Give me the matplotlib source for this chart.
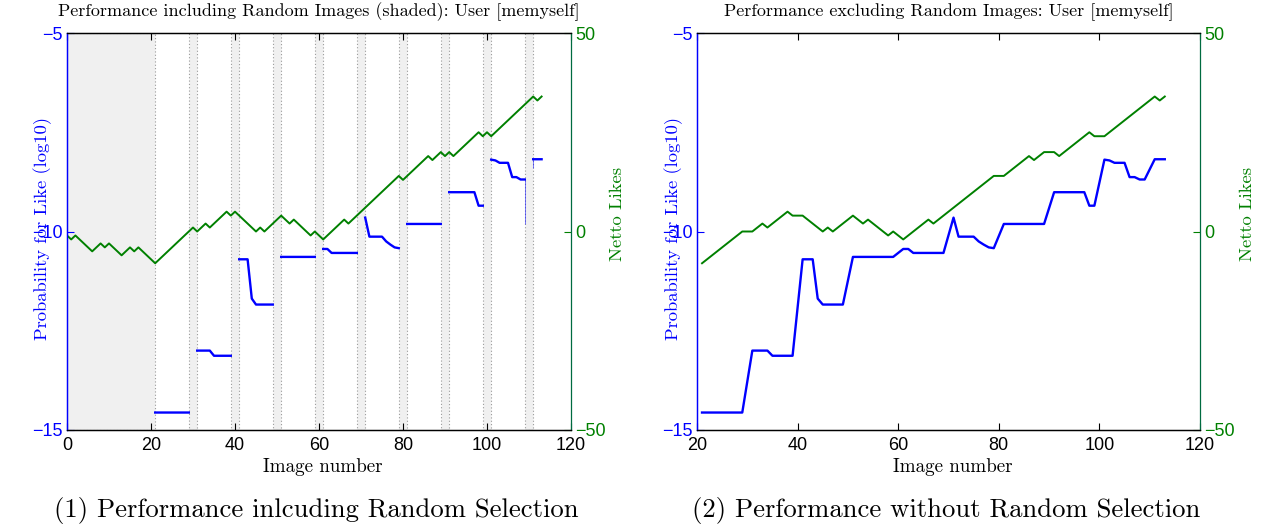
import numpy as np
import matplotlib
matplotlib.use("Agg")
import matplotlib.pyplot as plt

# ---------------- data ----------------
image_number = list(range(0, 114))

netto_likes = [
    -1, -2, -1, -2, -3, -4, -5, -4, -3, -4,      # 0-9
    -3, -4, -5, -6, -5, -4, -5, -4, -5, -6,      # 10-19
    -7, -8, -7, -6, -5, -4, -3, -2, -1, 0,       # 20-29
    1, 0, 1, 2, 1, 2, 3, 4, 5, 4,                # 30-39
    5, 4, 3, 2, 1, 0, 1, 0, 1, 2,                # 40-49
    3, 4, 3, 2, 3, 2, 1, 0, -1, 0,               # 50-59
    -1, -2, -1, 0, 1, 2, 3, 2, 3, 4,             # 60-69
    5, 6, 7, 8, 9, 10, 11, 12, 13, 14,           # 70-79
    13, 14, 15, 16, 17, 18, 19, 18, 19, 20,      # 80-89
    19, 20, 19, 20, 21, 22, 23, 24, 25, 24,      # 90-99
    25, 24, 25, 26, 27, 28, 29, 30, 31, 32,      # 100-109
    33, 34, 33, 34,                              # 110-113
]

random_images = [0, 1, 2, 3, 4, 5, 6, 7, 8, 9, 10, 11, 12, 13, 14, 15, 16,
                 17, 18, 19, 20, 30, 40, 50, 60, 70, 80, 90, 100, 110]

nan = np.nan
prob_like_log10 = [
    nan, nan, nan, nan, nan, nan, nan, nan, nan, nan,                       # 0-9
    nan, nan, nan, nan, nan, nan, nan, nan, nan, nan,                       # 10-19
    nan, -14.56, -14.56, -14.56, -14.56, -14.56, -14.56, -14.56, -14.56, -14.56,  # 20-29
    nan, -13.0, -13.0, -13.0, -13.0, -13.13, -13.13, -13.13, -13.13, -13.13,     # 30-39
    nan, -10.70, -10.70, -10.70, -11.69, -11.84, -11.84, -11.84, -11.84, -11.84,  # 40-49
    nan, -10.64, -10.64, -10.64, -10.64, -10.64, -10.64, -10.64, -10.64, -10.64,  # 50-59
    nan, -10.44, -10.44, -10.54, -10.54, -10.54, -10.54, -10.54, -10.54, -10.54,  # 60-69
    nan, -9.65, -10.13, -10.13, -10.13, -10.13, -10.25, -10.33, -10.40, -10.42,   # 70-79
    nan, -9.81, -9.81, -9.81, -9.81, -9.81, -9.81, -9.81, -9.81, -9.81,           # 80-89
    nan, -9.01, -9.01, -9.01, -9.01, -9.01, -9.01, -9.01, -9.35, -9.35,           # 90-99
    nan, -8.19, -8.21, -8.27, -8.27, -8.27, -8.63, -8.63, -8.69, -8.69,           # 100-109
    nan, -8.18, -8.18, -8.18,                                                    # 110-113
]

# faint rendering streaks visible in the left panel (image, from, to)
streak_x = [109, 111]
streak_top = [-8.69, -8.18]
streak_bottom = [-9.81, -8.39]

title_left = "Performance including Random Images (shaded): User [memyself]"
title_right = "Performance excluding Random Images: User [memyself]"
caption_left = "(1) Performance inlcuding Random Selection"
caption_right = "(2) Performance without Random Selection"
xlabel = "Image number"
ylabel_left = "Probability for Like (log10)"
ylabel_right = "Netto Likes"

# ---------------- style ----------------
BLUE = (0, 0, 1)
GREEN = (0, 0.5, 0)
SERIF = "cmr10"
TICKFONT = "Liberation Sans"
W, H = 1266, 530

x = np.array(image_number)
likes = np.array(netto_likes, dtype=float)
prob = np.array(prob_like_log10, dtype=float)
is_random = np.isin(x, random_images)

fig = plt.figure(figsize=(W / 100, H / 100), dpi=100)


def style_axes(ax, axr, xlim, xticks):
    ax.set_xlim(*xlim)
    ax.set_ylim(-15, -5)
    axr.set_ylim(-50, 50)
    ax.set_xticks(xticks)
    ax.set_yticks([-15, -10, -5])
    axr.set_yticks([-50, 0, 50])
    ax.tick_params(axis="x", direction="in", top=True, length=5, width=0.8,
                   pad=5, labelsize=13, color="black")
    ax.tick_params(axis="y", direction="in", length=5, width=0.8, pad=3,
                   labelsize=13, colors=BLUE)
    axr.tick_params(axis="y", direction="in", length=5, width=0.8, pad=3,
                    labelsize=13, colors=GREEN)
    for lab in ax.get_xticklabels() + ax.get_yticklabels() + axr.get_yticklabels():
        lab.set_fontfamily(TICKFONT)
    ax.spines["left"].set_color(BLUE)
    axr.spines["left"].set_color(BLUE)
    axr.spines["right"].set_color((0, 0.42, 0.25))
    ax.spines["right"].set_visible(False)
    for a in (ax, axr):
        for s in a.spines.values():
            s.set_linewidth(0.9)


# ---------------- left panel ----------------
ax1 = fig.add_axes([67 / W, 1 - 430 / H, 504 / W, 397 / H])
ax1r = ax1.twinx()

# merge consecutive random images into shaded bands
groups = []
for r in random_images:
    if groups and r == groups[-1][1] + 1:
        groups[-1][1] = r
    else:
        groups.append([r, r])
for a, b in groups:
    ax1.axvspan(a - 1, b + 1, facecolor="#f0f0f0", edgecolor="#9a9a9a",
                linestyle=(0, (1, 2)), linewidth=0.8, zorder=0)

ax1.plot(x, prob, color=BLUE, linewidth=1.7, zorder=3)
ax1.vlines(streak_x, streak_bottom, streak_top, color=BLUE, linewidth=0.6,
           alpha=0.6, zorder=3)
ax1r.plot(x, likes, color=GREEN, linewidth=1.4)
style_axes(ax1, ax1r, (0, 120), range(0, 121, 20))

# ---------------- right panel ----------------
ax2 = fig.add_axes([697 / W, 1 - 430 / H, 503 / W, 397 / H])
ax2r = ax2.twinx()
sel = ~is_random
ax2.plot(x[sel], prob[sel], color=BLUE, linewidth=1.7)
ax2r.plot(x[sel], likes[sel], color=GREEN, linewidth=1.4)
style_axes(ax2, ax2r, (20, 120), range(20, 121, 20))

# ---------------- texts ----------------
def fx(px):
    return px / W


def fy(py):
    return 1 - py / H


fig.text(fx(318.5), fy(12), title_left, family=SERIF, fontsize=13,
         ha="center", va="center")
fig.text(fx(949), fy(12), title_right, family=SERIF, fontsize=13,
         ha="center", va="center")
fig.text(fx(323), fy(467), xlabel, family=SERIF, fontsize=13.7,
         ha="center", va="center")
fig.text(fx(953), fy(467), xlabel, family=SERIF, fontsize=13.7,
         ha="center", va="center")
fig.text(fx(316.5), fy(510), caption_left, family=SERIF, fontsize=19.2,
         ha="center", va="center")
fig.text(fx(946), fy(510), caption_right, family=SERIF, fontsize=19.2,
         ha="center", va="center")
fig.text(fx(43), fy(228), ylabel_left, family=SERIF, fontsize=13.4,
         rotation=90, ha="center", va="center", color=BLUE)
fig.text(fx(674), fy(228), ylabel_left, family=SERIF, fontsize=13.4,
         rotation=90, ha="center", va="center", color=BLUE)
fig.text(fx(617), fy(214), ylabel_right, family=SERIF, fontsize=13.4,
         rotation=90, ha="center", va="center", color=GREEN)
fig.text(fx(1247), fy(214), ylabel_right, family=SERIF, fontsize=13.4,
         rotation=90, ha="center", va="center", color=GREEN)

fig.savefig("out.png", dpi=100)
